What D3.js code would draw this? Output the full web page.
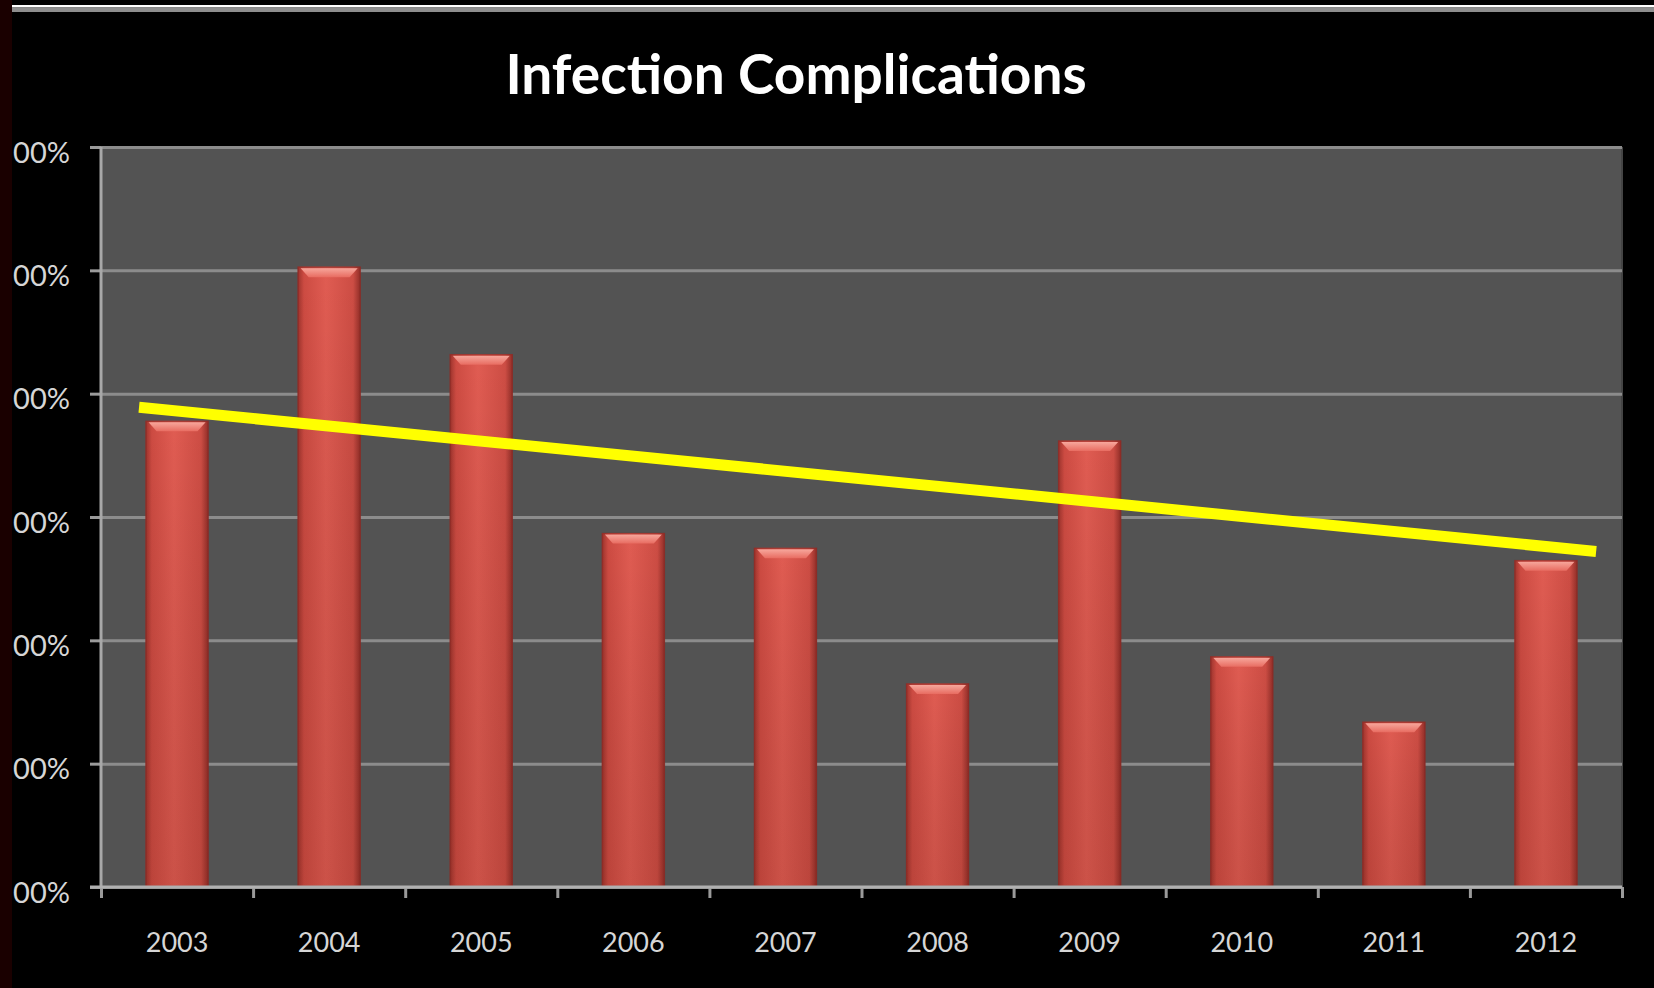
<!DOCTYPE html>
<html>
<head>
<meta charset="utf-8">
<script src="https://cdn.jsdelivr.net/npm/d3@7"></script>
<style>
  html, body { margin: 0; padding: 0; background: #000; }
  svg { display: block; }
  .axis text { font-family: Lato, "Open Sans", sans-serif; fill: #d6d6d6; }
  .axis path { display: none; }
</style>
</head>
<body>
<div id="chart"></div>
<script>

    // Chart data
    var chartTitle = "Infection Complications";
    var years = ["2003", "2004", "2005", "2006", "2007", "2008", "2009", "2010", "2011", "2012"];
    var rates = [3.78, 5.03, 4.32, 2.87, 2.75, 1.65, 3.62, 1.87, 1.34, 2.65];
    var yTicks = [0, 1, 2, 3, 4, 5, 6];
    var yTickLabels = ["00%", "00%", "00%", "00%", "00%", "00%", "00%"];
    // hand drawn trend line, ends given as (year position, value)
    var trendYears = [2002.75, 2012.33];
    var trendValues = [3.89, 2.72];


    var W = 1654, H = 988;
    var margin = {top: 147, right: 32, bottom: 101, left: 101},
        width = W - margin.left - margin.right,
        height = H - margin.top - margin.bottom;

    var svg = d3.select("#chart").append("svg")
        .attr("width", W)
        .attr("height", H);

    var defs = svg.append("defs");

    var barGrad = defs.append("linearGradient")
        .attr("id", "barBody")
        .attr("x1", "0").attr("x2", "1").attr("y1", "0").attr("y2", "0");
    barGrad.append("stop").attr("offset", "0").attr("stop-color", "#9c332c");
    barGrad.append("stop").attr("offset", "0.1").attr("stop-color", "#cd4b42");
    barGrad.append("stop").attr("offset", "0.45").attr("stop-color", "#e05c52");
    barGrad.append("stop").attr("offset", "0.88").attr("stop-color", "#cd4d44");
    barGrad.append("stop").attr("offset", "1").attr("stop-color", "#8f2d27");

    var shadeGrad = defs.append("linearGradient")
        .attr("id", "barShade")
        .attr("x1", "0").attr("x2", "0").attr("y1", "0").attr("y2", "1");
    shadeGrad.append("stop").attr("offset", "0").attr("stop-color", "#000").attr("stop-opacity", 0);
    shadeGrad.append("stop").attr("offset", "1").attr("stop-color", "#5a1a10").attr("stop-opacity", 0.15);

    var capGrad = defs.append("linearGradient")
        .attr("id", "barCap")
        .attr("x1", "0").attr("x2", "0").attr("y1", "0").attr("y2", "1");
    capGrad.append("stop").attr("offset", "0").attr("stop-color", "#f7a79c");
    capGrad.append("stop").attr("offset", "1").attr("stop-color", "#e86c61");

    // page frame
    svg.append("rect")
        .attr("x", 0).attr("y", 0)
        .attr("width", 12).attr("height", H)
        .attr("fill", "#1a0000");

    svg.append("rect")
        .attr("x", 12).attr("y", 5)
        .attr("width", W - 12).attr("height", 2.5)
        .attr("fill", "#ffffff");

    svg.append("rect")
        .attr("x", 12).attr("y", 7.5)
        .attr("width", W - 12).attr("height", 4.5)
        .attr("fill", "#8e8e8e");

    // title
    svg.append("text")
        .attr("x", 796)
        .attr("y", 94)
        .attr("text-anchor", "middle")
        .style("font-family", "Lato, 'Open Sans', sans-serif")
        .style("font-weight", "bold")
        .style("font-size", "55px")
        .style("fill", "#ffffff")
        .text(chartTitle);

    var g = svg.append("g")
        .attr("transform", "translate(" + margin.left + "," + margin.top + ")");

    // scales
    var x = d3.scaleBand()
        .domain(years)
        .range([0, width])
        .paddingInner(0.586)
        .paddingOuter(0.293);

    var xEdge = d3.scaleLinear()
        .domain([+years[0] - 0.5, +years[years.length - 1] + 0.5])
        .range([0, width]);

    var y = d3.scaleLinear()
        .domain([0, 6])
        .range([height, 0]);

    // plot background
    g.append("rect")
        .attr("x", 0).attr("y", 0)
        .attr("width", width).attr("height", height)
        .attr("fill", "#535353");

    g.append("line")
        .attr("x1", width).attr("x2", width)
        .attr("y1", 0).attr("y2", height)
        .attr("stroke", "#444")
        .attr("stroke-width", 2);

    // gridlines
    g.append("g")
        .attr("class", "grid")
        .call(d3.axisLeft(y).tickValues(yTicks).tickSize(-width).tickFormat(""))
        .call(function(s) {
            s.select(".domain").remove();
            s.selectAll("line").attr("stroke", "#8c8c8c").attr("stroke-width", 3);
        });

    // bars
    var bars = g.selectAll(".bar")
        .data(years)
        .enter()
        .append("g")
        .attr("class", "bar");

    bars.append("rect")
        .attr("x", function(d) { return x(d); })
        .attr("y", function(d, i) { return y(rates[i]); })
        .attr("width", x.bandwidth())
        .attr("height", function(d, i) { return height - y(rates[i]); })
        .attr("fill", "url(#barBody)");

    bars.append("rect")
        .attr("x", function(d) { return x(d); })
        .attr("y", function(d, i) { return y(rates[i]); })
        .attr("width", x.bandwidth())
        .attr("height", function(d, i) { return height - y(rates[i]); })
        .attr("fill", "url(#barShade)");

    // bevel on top of each bar
    bars.append("path")
        .attr("d", function(d, i) {
            var x0 = x(d) + 3, x1 = x(d) + x.bandwidth() - 3, t = y(rates[i]) + 1.5;
            return "M" + x0 + "," + t + "L" + x1 + "," + t +
                   "L" + (x1 - 8) + "," + (t + 9) + "L" + (x0 + 8) + "," + (t + 9) + "Z";
        })
        .attr("fill", "url(#barCap)");

    bars.append("rect")
        .attr("x", function(d) { return x(d) + 0.5; })
        .attr("y", function(d, i) { return y(rates[i]) + 0.5; })
        .attr("width", x.bandwidth() - 1)
        .attr("height", function(d, i) { return height - y(rates[i]) - 1; })
        .attr("fill", "none")
        .attr("stroke", "#8a2a24")
        .attr("stroke-opacity", 0.6)
        .attr("stroke-width", 1.5);

    // trend line
    var line = d3.line()
        .x(function(d) { return xEdge(d[0]); })
        .y(function(d) { return y(d[1]); });

    g.append("path")
        .datum(d3.zip(trendYears, trendValues))
        .attr("d", line)
        .attr("fill", "none")
        .attr("stroke", "#ffff00")
        .attr("stroke-width", 11);

    // axes
    g.append("g")
        .attr("class", "axis")
        .call(d3.axisLeft(y).tickValues(yTicks).tickSize(11).tickPadding(20)
            .tickFormat(function(d, i) { return yTickLabels[i]; }))
        .call(function(s) {
            s.selectAll("line").attr("stroke", "#9a9a9a").attr("stroke-width", 3);
            s.selectAll("text").style("font-size", "29px").attr("dy", "0.52em");
        });

    g.append("line")
        .attr("x1", 0).attr("x2", 0)
        .attr("y1", 0).attr("y2", height)
        .attr("stroke", "#a8a8a8")
        .attr("stroke-width", 3);

    g.append("g")
        .attr("class", "axis")
        .attr("transform", "translate(0," + height + ")")
        .call(d3.axisBottom(xEdge).tickValues(d3.range(years.length + 1).map(function(i) { return +years[0] - 0.5 + i; }))
            .tickSize(11).tickFormat(""))
        .call(function(s) {
            s.selectAll("line").attr("stroke", "#9a9a9a").attr("stroke-width", 3);
        });

    g.append("line")
        .attr("x1", -11).attr("x2", width)
        .attr("y1", height).attr("y2", height)
        .attr("stroke", "#b0b0b0")
        .attr("stroke-width", 3);

    g.append("g")
        .attr("class", "axis")
        .attr("transform", "translate(0," + height + ")")
        .call(d3.axisBottom(x).tickSize(0).tickPadding(46))
        .call(function(s) {
            s.selectAll("text").style("font-size", "27px");
        });

</script>
</body>
</html>
